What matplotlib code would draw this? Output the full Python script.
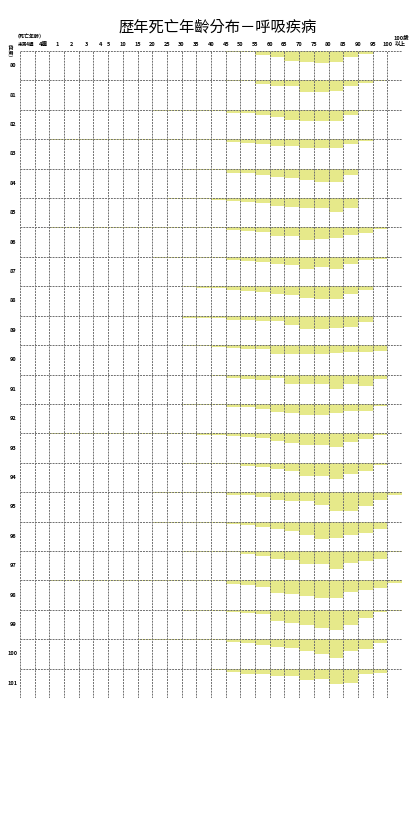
import numpy as np
import matplotlib
matplotlib.use('Agg')
from matplotlib import pyplot as plt
from matplotlib import transforms

plt.rcParams['font.family'] = ['Noto Sans CJK TC', 'DejaVu Sans']

# 年度（民國）
years = list(range(80, 102))

# 年齡組：未滿4週, 4週~1歲, 1, 2, 3, 4, 5-9, 10-14, ... 95-99, 100以上
age_groups = ['未滿4週', '4週', '1', '2', '3', '4'] + [str(a) for a in range(5, 100, 5)] + ['100以上']

# 上排刻度文字
tick_labels = ['未滿4週', '4週', '1', '2', '3', '4'] + [str(a) for a in range(5, 101, 5)]

# 每年各年齡組死亡人數（相對量，一列高度 = 29.4）
v80 = [0, 0, 0, 0, 0, 0, 0, 0, 0, 0, 0, 0, 0, 0, 0.7, 1.2, 4.0, 6.3, 10.0, 11.0, 12.3, 11.0, 5.7, 3.0, 0, 0]
v81 = [0, 0, 0, 0, 0, 0, 0, 0, 0, 0, 0, 0, 0, 0, 0.3, 1.0, 3.7, 6.0, 6.0, 11.7, 11.7, 10.3, 5.3, 2.7, 1.0, 0]
v82 = [0, 0, 0, 0, 0, 0, 0, 0, 0.5, 0.7, 0.7, 0.7, 0.7, 0.7, 3.0, 3.0, 5.3, 7.3, 9.7, 10.7, 10.7, 10.7, 4.7, 1.3, 0, 0]
v83 = [0, 0, 0.3, 0.3, 0.3, 0.3, 0.3, 0.3, 0.3, 1.0, 1.0, 1.0, 1.0, 1.0, 2.7, 3.7, 4.3, 7.0, 7.0, 8.3, 8.3, 8.3, 4.7, 2.0, 0, 0]
v84 = [0, 0, 0.3, 0.3, 0.3, 0.3, 0.3, 0.3, 0.3, 0.3, 0.3, 1.5, 1.5, 1.5, 4.3, 4.3, 6.0, 8.3, 9.0, 11.7, 13.3, 13.3, 6.7, 0.3, 0, 0]
v85 = [0, 0, 0.3, 0.3, 0.3, 0.3, 0.3, 0.3, 0.3, 0.3, 0.7, 1.0, 1.3, 2.0, 2.7, 3.7, 4.7, 8.0, 8.7, 10.3, 10.3, 13.7, 10.3, 1.0, 0, 0]
v86 = [0, 0, 0.3, 0.3, 0.3, 0.3, 0.3, 0.3, 0.3, 1.0, 1.0, 1.0, 1.0, 1.0, 2.7, 3.3, 5.0, 8.3, 9.0, 12.7, 11.7, 11.0, 7.7, 6.0, 2.0, 0]
v87 = [0, 0, 0.3, 0.3, 0.3, 0.3, 0.3, 0.3, 0.3, 1.0, 1.0, 1.0, 1.0, 1.0, 2.7, 4.0, 5.0, 7.3, 8.3, 11.7, 10.0, 12.3, 6.7, 2.7, 1.7, 0]
v88 = [0, 0, 0.2, 0.2, 0.2, 0.2, 0.2, 0.2, 0.2, 0.2, 0.2, 0.7, 1.3, 1.7, 3.7, 4.3, 5.3, 7.7, 8.3, 11.7, 12.7, 12.7, 7.7, 3.3, 0, 0]
v89 = [0, 0, 0.3, 0.3, 0.3, 0.3, 0.3, 0.3, 0.3, 0.3, 0.3, 2.0, 2.0, 2.3, 4.0, 4.7, 5.3, 5.7, 9.7, 13.0, 13.0, 12.0, 11.3, 6.3, 0, 0]
v90 = [0, 0, 0.3, 0.3, 0.3, 0.3, 0.3, 0.3, 0.3, 0.3, 0.3, 0.7, 1.0, 2.0, 3.0, 3.7, 4.3, 8.7, 9.3, 9.3, 9.3, 7.7, 7.0, 7.0, 6.3, 0]
v91 = [0, 0, 0.5, 0.5, 0.5, 0.5, 0.5, 0.5, 0.5, 0.5, 0.5, 0.5, 0.5, 1.7, 3.3, 4.3, 5.0, 3.3, 9.3, 9.3, 9.3, 14.0, 9.3, 11.0, 4.3, 0]
v92 = [0, 0, 0.3, 0.3, 0.3, 0.3, 0.3, 0.3, 0.3, 0.3, 0.3, 1.0, 1.0, 1.0, 2.7, 3.3, 5.0, 7.7, 9.0, 11.0, 11.0, 9.3, 6.7, 7.3, 1.7, 0]
v93 = [0, 0, 0.3, 0.3, 0.3, 0.3, 0.3, 0.3, 0.3, 0.3, 0.3, 0.3, 1.3, 1.3, 2.7, 3.7, 4.3, 7.7, 9.3, 11.7, 11.7, 13.3, 8.7, 6.0, 1.3, 0]
v94 = [0, 0, 0.3, 0.3, 0.3, 0.3, 0.3, 0.3, 0.3, 0.3, 0.3, 1.3, 1.3, 1.3, 1.7, 3.3, 4.3, 6.7, 8.3, 13.3, 13.3, 16.7, 11.7, 8.3, 2.0, 0]
v95 = [0, 0, 0.3, 0.3, 0.3, 0.3, 0.3, 0.3, 0.3, 1.0, 1.0, 1.0, 1.0, 1.0, 3.3, 3.3, 5.3, 7.7, 9.3, 9.3, 12.7, 18.7, 18.7, 14.3, 8.3, 3.3]
v96 = [0, 0, 0.3, 0.3, 0.3, 0.3, 0.3, 0.3, 0.3, 1.0, 1.0, 1.0, 1.0, 1.0, 2.7, 3.7, 5.0, 7.7, 9.3, 13.3, 17.7, 16.0, 13.7, 11.0, 7.7, 0]
v97 = [0, 0, 0.3, 0.3, 0.3, 0.3, 0.3, 0.3, 0.3, 0.3, 0.3, 1.3, 1.3, 1.3, 1.0, 3.3, 5.0, 7.7, 9.0, 12.7, 13.3, 18.3, 11.7, 10.0, 7.7, 1.0]
v98 = [0, 0, 0.3, 0.3, 0.3, 0.3, 0.3, 0.3, 0.3, 0.3, 0.3, 0.7, 0.7, 0.7, 3.3, 4.7, 6.3, 12.3, 13.3, 15.7, 18.0, 18.0, 11.7, 9.7, 8.0, 2.3]
v99 = [0, 0, 0.3, 0.3, 0.3, 0.3, 0.3, 0.3, 0.3, 0.3, 0.3, 1.3, 1.3, 1.3, 2.3, 3.3, 4.7, 11.5, 13.0, 15.5, 17.8, 20.5, 15.5, 8.5, 2.3, 1.0]
v100 = [0, 0, 0, 0, 0, 0, 0, 0, 0.5, 0.7, 0.7, 0.7, 0.7, 0.7, 3.3, 4.0, 5.7, 7.7, 9.0, 11.7, 15.0, 19.0, 12.3, 10.0, 4.3, 0]
v101 = [0, 0, 0, 0, 0, 0, 0, 0, 0.3, 0.3, 0.3, 0.3, 0.3, 1.7, 3.3, 5.0, 5.7, 7.3, 7.3, 11.3, 10.7, 15.7, 14.0, 5.7, 4.0, 0]

values = [v80, v81, v82, v83, v84, v85, v86, v87, v88, v89, v90,
          v91, v92, v93, v94, v95, v96, v97, v98, v99, v100, v101]

row_scale = 29.4
bar_color = '#e6e98a'
grid_color = '#6f6f6f'
fs = 4.0

fig = plt.figure(figsize=(4.17, 8.14), dpi=100)
ax = fig.add_axes([20 / 417, 1 - 698 / 814, 382 / 417, 647 / 814])

n_cols = len(age_groups)
n_rows = len(years)
x = np.arange(n_cols)
for i, row in enumerate(values):
    h = np.array(row) / row_scale
    ax.bar(x, h, width=1.0, bottom=i, align='edge', color=bar_color, linewidth=0, zorder=1)

# 虛線格線
for c in range(n_cols + 1):
    ax.axvline(c, color=grid_color, lw=0.7, ls=(0, (2, 1)), zorder=3)
for r in range(n_rows + 1):
    ax.axhline(r, color=grid_color, lw=0.7, ls=(0, (2, 1)), zorder=3)

ax.set_xlim(0, n_cols)
ax.set_ylim(n_rows, 0)
ax.axis('off')

# 上方年齡刻度
trans = transforms.blended_transform_factory(ax.transData, ax.transAxes)
tick_pos = [0.45, 1.6, 2.5, 3.5, 4.5, 5.5] + list(range(6, 26))
for pos, lab in zip(tick_pos, tick_labels):
    size = 3.3 if lab == '未滿4週' else fs
    ax.text(pos, 1.006, lab, transform=trans, ha='center', va='bottom',
            fontsize=size, fontweight='bold')
ax.text(25.5, 1.006, '以上', transform=trans, ha='left', va='bottom', fontsize=fs, fontweight='bold')
ax.text(25.45, 1.016, '100歲', transform=trans, ha='left', va='bottom', fontsize=fs, fontweight='bold')
ax.text(-0.35, 1.018, '（死亡年齡）', transform=trans, ha='left', va='bottom', fontsize=3.6, fontweight='bold')

# 年度標籤
for i, yr in enumerate(years):
    ax.text(-0.5, i + 0.5, str(yr), ha='center', va='center', fontsize=fs, fontweight='bold')
fig.text(7 / 417, 1 - 54 / 814, '（年度）', rotation=-90, ha='center', va='center',
         fontsize=3.4, fontweight='bold')

fig.text(218 / 417, 1 - 27 / 814, '歴年死亡年齡分布－呼吸疾病', ha='center', va='center',
         fontsize=11, fontweight='medium')

fig.savefig('out.png', dpi=100)
